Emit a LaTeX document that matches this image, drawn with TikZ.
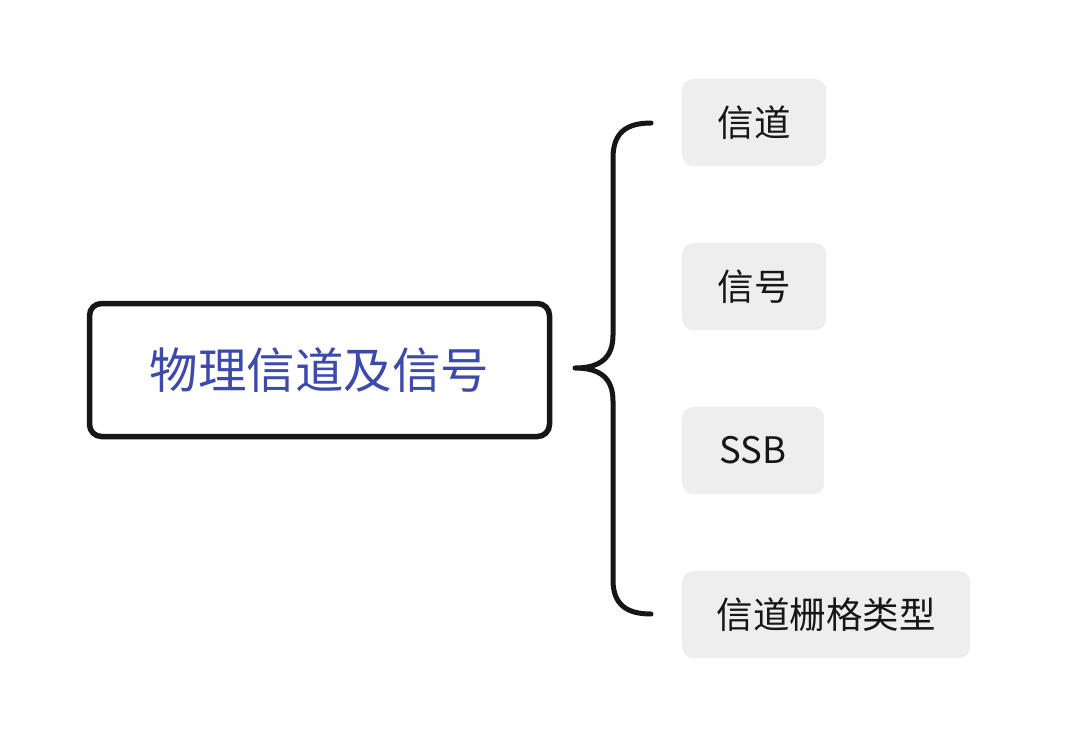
\documentclass[tikz,border=0pt]{standalone}
\usepackage{fontspec}
\newfontfamily\cjk{Noto Sans CJK SC}
\definecolor{mainblue}{HTML}{3D4AAB}
\definecolor{leafgray}{HTML}{EEEEEE}
\definecolor{inkdark}{HTML}{161616}
\begin{document}
\begin{tikzpicture}[x=1pt,y=-1pt,
  rootbox/.style={draw=inkdark,line width=5.5pt,rounded corners=12pt,fill=white,
    minimum width=460pt,minimum height=133pt,inner sep=0pt,
    font=\cjk\fontsize{48.5}{52}\selectfont,text=mainblue},
  leafbox/.style={fill=leafgray,rounded corners=11pt,minimum height=87pt,inner sep=0pt,
    font=\cjk\fontsize{36.5}{40}\selectfont,text=inkdark,anchor=west},
  bracestroke/.style={draw=inkdark,line width=5pt,line cap=round,line join=round}]
\useasboundingbox (0,0) rectangle (1071,732);
\node[rootbox] (root) at (319.5,370) {物理信道及信号};
\node[leafbox,minimum width=144pt] (l1) at (682,122.5) {信道};
\node[leafbox,minimum width=144pt] (l2) at (682,286.5) {信号};
\node[leafbox,minimum width=142pt] (l3) at (682,450.5) {SSB};
\node[leafbox,minimum width=288pt] (l4) at (682,614.5) {信道栅格类型};
\coordinate (btop) at (651,123);
\coordinate (btip) at (575,368);
\coordinate (bbot) at (651,614);
\draw[bracestroke] (btop) .. controls (626,123) and (613,133) .. (613,158)
  -- (613,335) .. controls (613,358) and (600,368) .. (btip)
  .. controls (600,368) and (613,378) .. (613,401)
  -- (613,580) .. controls (613,604) and (626,614) .. (bbot);
\end{tikzpicture}
\end{document}
